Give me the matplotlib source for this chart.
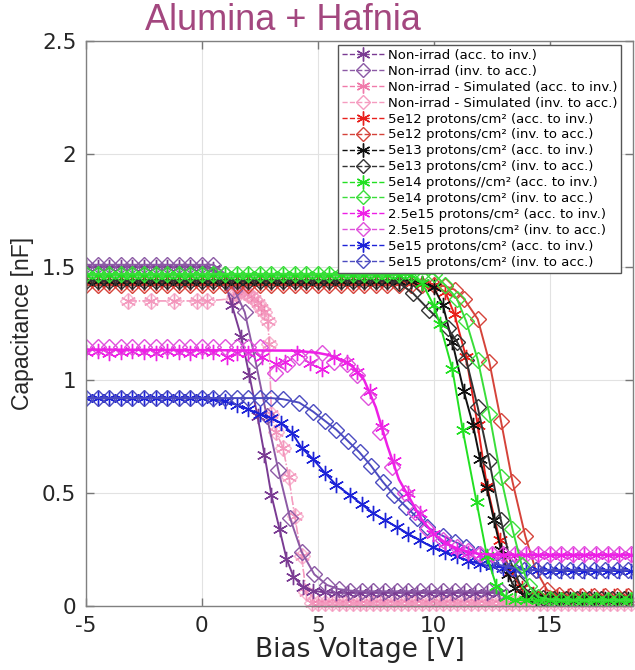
import matplotlib
matplotlib.use('Agg')
import matplotlib.pyplot as plt
from matplotlib.lines import Line2D
from matplotlib.ticker import FormatStrFormatter

plt.rcParams['axes.unicode_minus'] = False

# ---- values (bias in V, capacitance in nF) ----
# Non-irradiated, measured
v_ni_acc = [-5, -4.5, -4, -3.5, -3, -2.5, -2, -1.5, -1, -0.5, 0,
            0.5, 1.0, 1.3, 1.7, 2.05, 2.4, 2.7, 3.0, 3.35, 3.65, 3.95, 4.35, 4.8, 5.3,
            5.8, 6.3, 6.8, 7.3, 7.8, 8.3, 8.8, 9.3, 9.8, 10.3, 10.8, 11.3, 11.8, 12.3, 12.8]
c_ni_acc = [1.50] * 11 + [1.49, 1.43, 1.33, 1.19, 1.02, 0.84, 0.67, 0.49, 0.34, 0.21,
                          0.13, 0.085, 0.068, 0.06] + [0.058] * 15

v_ni_inv = [-5, -4.5, -4, -3.5, -3, -2.5, -2, -1.5, -1, -0.5, 0, 0.5, 1.0,
            1.4, 1.85, 2.3, 2.8, 3.3, 3.8, 4.3, 4.85, 5.4, 5.9, 6.4,
            6.9, 7.4, 7.9, 8.4, 8.9, 9.4, 9.9, 10.4, 10.9, 11.4, 11.9, 12.4, 12.9]
c_ni_inv = [1.51] * 12 + [1.47] + [1.40, 1.30, 1.09, 0.84, 0.60, 0.39, 0.24, 0.14,
                                   0.093, 0.075, 0.068] + [0.065] * 13

# Non-irradiated, simulated (both sweeps lie on top of each other)
v_sim = [-3.2, -2.2, -1.2, -0.2, 0.2,
         1.35, 1.5, 1.65, 1.8, 1.95, 2.1, 2.25, 2.4, 2.55, 2.7, 2.85, 2.9, 3.0, 3.2,
         3.5, 3.75, 4.0, 4.3, 4.5, 4.75,
         5.0, 5.3, 5.6, 5.9, 6.2, 6.5, 6.8, 7.1, 7.4, 7.7, 8.0, 8.3, 8.6, 8.9, 9.2,
         9.5, 9.8, 10.1, 10.4, 10.7, 11.0, 11.3, 11.6, 11.9, 12.2, 12.5, 12.8, 13.1,
         13.4, 13.7, 14.0, 14.3, 14.6, 14.9, 15.2, 15.5, 15.8, 16.1, 16.4, 16.7, 17.0,
         17.3, 17.6, 17.9, 18.2, 18.5]
c_sim = [1.35] * 5 + [1.36, 1.39, 1.40, 1.39, 1.38, 1.37, 1.36, 1.34, 1.32, 1.30,
                      1.26, 1.16, 0.85, 0.77, 0.70, 0.57, 0.40, 0.22, 0.06, 0.015] + [0.012] * 46

# 5e12 protons/cm2
v_r_acc = [-5, -4.5, -4, -3.5, -3, -2.5, -2, -1.5, -1, -0.5, 0, 0.5, 1, 1.5, 2, 2.5, 3,
           3.5, 4, 4.5, 5, 5.5, 6, 6.5, 7, 7.5, 8, 8.5, 9, 9.5, 10,
           10.5, 10.9, 11.4, 11.9, 12.3, 12.85, 13.3, 13.8, 14.3, 14.8,
           15.3, 15.8, 16.3, 16.8, 17.3, 17.8, 18.3, 18.8]
c_r_acc = [1.43] * 29 + [1.425, 1.42] + [1.39, 1.29, 1.10, 0.80, 0.53, 0.29, 0.15, 0.08,
                                         0.055, 0.047] + [0.045] * 8

v_r_inv = [-5, -4.5, -4, -3.5, -3, -2.5, -2, -1.5, -1, -0.5, 0, 0.5, 1, 1.5, 2, 2.5, 3,
           3.5, 4, 4.5, 5, 5.5, 6, 6.5, 7, 7.5, 8, 8.5, 9, 9.5, 10, 10.5,
           10.9, 11.3, 11.9, 12.4, 12.9, 13.4, 13.95, 14.4, 14.9, 15.4,
           15.9, 16.4, 16.9, 17.4, 17.9, 18.4]
c_r_inv = [1.42] * 31 + [1.415] + [1.40, 1.36, 1.27, 1.08, 0.82, 0.55, 0.31, 0.16, 0.07,
                                   0.05] + [0.045] * 6

# 5e13 protons/cm2
v_k_acc = [-5, -4.5, -4, -3.5, -3, -2.5, -2, -1.5, -1, -0.5, 0, 0.5, 1, 1.5, 2, 2.5, 3,
           3.5, 4, 4.5, 5, 5.5, 6, 6.5, 7, 7.5, 8, 8.5, 9, 9.5,
           10.0, 10.4, 10.8, 11.3, 11.7, 12.0, 12.3, 12.6, 12.9, 13.2, 13.5, 13.9, 14.4,
           14.9, 15.4, 15.9, 16.4, 16.9, 17.4, 17.9, 18.4]
c_k_acc = [1.44] * 29 + [1.43] + [1.41, 1.33, 1.17, 0.95, 0.80, 0.65, 0.52, 0.38, 0.25,
                                  0.14, 0.08, 0.05, 0.035] + [0.03] * 8

v_k_inv = [-5, -4.5, -4, -3.5, -3, -2.5, -2, -1.5, -1, -0.5, 0, 0.5, 1, 1.5, 2, 2.5, 3,
           3.5, 4, 4.5, 5, 5.5, 6, 6.5, 7, 7.5, 8, 8.5,
           9.1, 9.8, 10.6, 11.0, 11.4, 11.9, 12.4, 12.9, 13.3, 13.7, 14.2, 14.7,
           15.2, 15.7, 16.2, 16.7, 17.2, 17.7, 18.2, 18.7]
c_k_inv = [1.44] * 27 + [1.43] + [1.385, 1.31, 1.23, 1.17, 1.09, 0.88, 0.64, 0.38, 0.20,
                                  0.10, 0.05, 0.035] + [0.03] * 8

# 5e14 protons/cm2
v_g_acc = [-5, -4.5, -4, -3.5, -3, -2.5, -2, -1.5, -1, -0.5, 0, 0.5, 1, 1.5, 2, 2.5, 3,
           3.5, 4, 4.5, 5, 5.5, 6, 6.5, 7, 7.5, 8, 8.5, 9,
           9.5, 10.0, 10.26, 10.8, 11.25, 11.85, 12.3, 12.7, 13.1, 13.5,
           14.0, 14.5, 15.0, 15.5, 16.0, 16.5, 17.0, 17.5, 18.0, 18.5]
c_g_acc = [1.465] * 29 + [1.43, 1.33, 1.25, 1.05, 0.78, 0.46, 0.22, 0.09, 0.04,
                          0.028] + [0.025] * 10

v_g_inv = [-5, -4.5, -4, -3.5, -3, -2.5, -2, -1.5, -1, -0.5, 0, 0.5, 1, 1.5, 2, 2.5, 3,
           3.5, 4, 4.5, 5, 5.5, 6, 6.5, 7, 7.5, 8, 8.5, 9, 9.5, 10,
           10.5, 11.0, 11.4, 11.9, 12.4, 12.9, 13.4, 13.8, 14.1, 14.5, 15.0,
           15.5, 16.0, 16.5, 17.0, 17.5, 18.0, 18.5]
c_g_inv = [1.47] * 31 + [1.42, 1.36, 1.26, 1.09, 0.85, 0.57, 0.34, 0.18, 0.09, 0.04,
                         0.03] + [0.025] * 7

# 2.5e15 protons/cm2
v_m_acc = [-5, -4.5, -4, -3.5, -3, -2.5, -2, -1.5, -1, -0.5, 0, 0.5,
           1.1, 1.5, 2.0, 2.6, 3.2, 3.6, 4.1, 4.66, 5.17, 5.7, 6.25, 6.7, 7.24, 7.76,
           8.3, 8.9, 9.4, 9.95, 10.5, 11.0, 11.5,
           12.0, 12.5, 13.0, 13.5, 14.0, 14.5, 15.0, 15.5, 16.0, 16.5, 17.0, 17.5, 18.0, 18.5]
c_m_acc = [1.125, 1.13, 1.12, 1.125, 1.13, 1.125, 1.12, 1.13, 1.125, 1.12, 1.13, 1.125,
           1.10, 1.12, 1.12, 1.10, 1.07, 1.08, 1.12, 1.075, 1.05, 1.10, 1.08, 1.035, 0.95,
           0.79, 0.64, 0.50, 0.41, 0.32, 0.28, 0.25, 0.235] + [0.225] * 14

v_m_inv = [-5, -4.5, -4, -3.5, -3, -2.5, -2, -1.5, -1, -0.5, 0, 0.5, 1, 1.5, 2, 2.5,
           3.15, 3.66, 4.2, 4.7, 5.2, 5.7, 6.25, 6.7, 7.16, 7.7, 8.2, 8.75, 9.2, 9.7,
           10.4, 11.0, 11.5,
           12.0, 12.5, 13.0, 13.5, 14.0, 14.5, 15.0, 15.5, 16.0, 16.5, 17.0, 17.5, 18.0, 18.5]
c_m_inv = [1.145] * 16 + [1.03, 1.07, 1.10, 1.10, 1.12, 1.08, 1.07, 1.02, 0.925, 0.77,
                          0.615, 0.50, 0.415, 0.34, 0.29, 0.26, 0.245] + [0.232] * 14

v_m_fit = [-5, 4, 5, 5.5, 6, 6.5, 7, 7.5, 8, 8.5, 9, 9.5, 10, 10.5, 11, 11.5, 12, 13, 18.6]
c_m_fit = [1.135, 1.13, 1.12, 1.11, 1.09, 1.06, 1.0, 0.88, 0.71, 0.56, 0.47, 0.38, 0.32,
           0.28, 0.255, 0.24, 0.23, 0.226, 0.226]

# 5e15 protons/cm2
v_b_acc = [-5, -4.5, -4, -3.5, -3, -2.5, -2, -1.5, -1, -0.5, 0, 0.5,
           1.0, 1.5, 2.0, 2.5, 3.0, 3.4, 3.9, 4.3, 4.8, 5.3, 5.8, 6.4, 6.9, 7.4, 7.9, 8.4,
           8.9, 9.4, 9.95, 10.5, 11.0, 11.5, 12.0, 12.5, 13.0, 13.5,
           14.0, 14.5, 15.0, 15.5, 16.0, 16.5, 17.0, 17.5, 18.0, 18.5]
c_b_acc = [0.92] * 11 + [0.915] + [0.905, 0.89, 0.87, 0.85, 0.83, 0.81, 0.765, 0.70, 0.65,
                                   0.59, 0.535, 0.49, 0.45, 0.41, 0.38, 0.35, 0.32, 0.29,
                                   0.26, 0.24, 0.22, 0.20, 0.185, 0.175, 0.17, 0.165] + \
          [0.16, 0.158, 0.156] + [0.155] * 7

v_b_inv = [-5, -4.5, -4, -3.5, -3, -2.5, -2, -1.5, -1, -0.5, 0, 0.5, 1, 1.5, 2, 2.5, 3, 3.5,
           4.2, 4.8, 5.3, 5.8, 6.3, 6.8, 7.3, 7.8, 8.3, 8.8, 9.3, 9.7, 10.4, 10.9, 11.4,
           11.9, 12.4, 12.9, 13.4,
           13.9, 14.4, 14.9, 15.4, 15.9, 16.4, 16.9, 17.4, 17.9, 18.4]
c_b_inv = [0.92] * 17 + [0.915] + [0.90, 0.86, 0.82, 0.78, 0.73, 0.68, 0.62, 0.55, 0.49,
                                   0.44, 0.39, 0.35, 0.31, 0.285, 0.26, 0.23, 0.20, 0.18,
                                   0.17] + [0.16] * 10

labels = ['Non-irrad (acc. to inv.)',
          'Non-irrad (inv. to acc.)',
          'Non-irrad - Simulated (acc. to inv.)',
          'Non-irrad - Simulated (inv. to acc.)',
          '5e12 protons/cm² (acc. to inv.)',
          '5e12 protons/cm² (inv. to acc.)',
          '5e13 protons/cm² (acc. to inv.)',
          '5e13 protons/cm² (inv. to acc.)',
          '5e14 protons//cm² (acc. to inv.)',
          '5e14 protons/cm² (inv. to acc.)',
          '2.5e15 protons/cm² (acc. to inv.)',
          '2.5e15 protons/cm² (inv. to acc.)',
          '5e15 protons/cm² (acc. to inv.)',
          '5e15 protons/cm² (inv. to acc.)']

colors = ['#7a3b93', '#8c5aa5', '#f07aaa', '#f59cc0',
          '#e8201c', '#d5433a', '#111111', '#333333',
          '#22e022', '#3ade3a', '#ee1fe6', '#e050dc',
          '#1c22d8', '#4b4bc0']

AST = (6, 2, 0)  # matlab style asterisk

series = [(v_ni_acc, c_ni_acc), (v_ni_inv, c_ni_inv), (v_sim, c_sim), (v_sim, c_sim),
          (v_r_acc, c_r_acc), (v_r_inv, c_r_inv), (v_k_acc, c_k_acc), (v_k_inv, c_k_inv),
          (v_g_acc, c_g_acc), (v_g_inv, c_g_inv), (v_m_acc, c_m_acc), (v_m_inv, c_m_inv),
          (v_b_acc, c_b_acc), (v_b_inv, c_b_inv)]

fig = plt.figure(figsize=(6.35, 6.70), dpi=100)
ax = fig.add_axes([0.1354, 0.0955, 0.8615, 0.8433])

order = [2, 3, 0, 1, 4, 5, 6, 7, 12, 13, 10, 11, 8, 9]
for i in order:
    v, c = series[i]
    mk = AST if i % 2 == 0 else 'D'
    ms = 11 if i % 2 == 0 else 8.5
    if i in (2, 3):
        ax.plot(v, c, ls='-.', lw=1.0, color=colors[i], marker=mk, ms=ms, mfc='none',
                mew=1.0, alpha=0.75, clip_on=False)
    elif i in (10, 11):
        ax.plot(v, c, ls='none', color=colors[i], marker=mk, ms=ms, mfc='none', mew=1.0)
    else:
        ax.plot(v, c, ls='-', lw=1.4, color=colors[i], marker=mk, ms=ms, mfc='none', mew=1.0)
ax.plot(v_m_fit, c_m_fit, '-', lw=1.8, color='#ee1fe6')

handles = []
for i in range(14):
    handles.append(Line2D([], [], color=colors[i], ls='--', lw=1.0,
                          marker=AST if i % 2 == 0 else 'D', ms=10 if i % 2 == 0 else 7.5,
                          mfc='none', mew=1.0))
leg = ax.legend(handles, labels, loc='upper right', bbox_to_anchor=(0.978, 0.993),
                fontsize=9.5, fancybox=False, framealpha=1, edgecolor='#555555',
                borderaxespad=0, handlelength=3.2, handletextpad=0.25,
                labelspacing=0.22, borderpad=0.3)
leg.get_frame().set_linewidth(1.0)

ax.set_xlim(-5, 18.6)
ax.set_ylim(0, 2.5)
ax.set_xticks([-5, 0, 5, 10, 15])
ax.set_yticks([0, 0.5, 1, 1.5, 2, 2.5])
ax.yaxis.set_major_formatter(FormatStrFormatter('%g'))
ax.grid(True, color='#e2e2e2', lw=0.8)
ax.set_axisbelow(True)
ax.tick_params(direction='in', top=True, right=True, length=6, width=1,
               labelsize=15.5, color='#777777', labelcolor='#262626', pad=7)
for s in ax.spines.values():
    s.set_color('#808080')
    s.set_linewidth(1.0)

ax.set_xlabel('Bias Voltage [V]', fontsize=19, color='#262626', labelpad=1)
ax.set_ylabel('Capacitance [nF]', fontsize=16.5, color='#262626', family='Liberation Sans')
ax.yaxis.set_label_coords(-0.095, 0.5)

fig.text(0.445, 0.969, 'Alumina + Hafnia', color='#a3477f', fontsize=26,
         family='Liberation Sans', ha='center', va='center')

fig.savefig('out.png', dpi=100)
